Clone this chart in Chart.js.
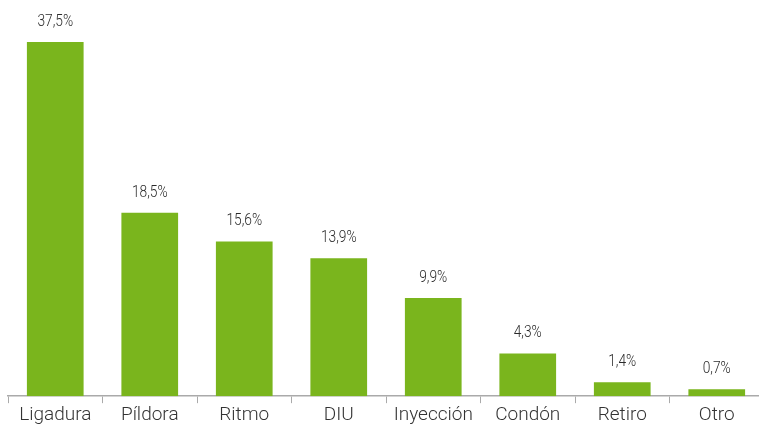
<!DOCTYPE html>
<html>
<head>
<meta charset="utf-8">
<script src="https://cdn.jsdelivr.net/npm/chart.js@4"></script>
<style>
  html, body { margin: 0; padding: 0; background: #fff; overflow: hidden; }
  #wrap { width: 766px; height: 427px; }
</style>
</head>
<body>
<div id="wrap"><canvas id="chart"></canvas></div>
<script>
// metodos anticonceptivos
const categories = ["Ligadura", "Píldora", "Ritmo", "DIU", "Inyección", "Condón", "Retiro", "Otro"];
const values = [37.5, 18.5, 15.6, 13.9, 9.9, 4.3, 1.4, 0.7];
const valueLabels = ["37,5%", "18,5%", "15,6%", "13,9%", "9,9%", "4,3%", "1,4%", "0,7%"];
const yMax = 35.7; // la barra de Ligadura aparece recortada en el original

// etiquetas arriba de cada barra (letra algo angosta)
const topLabels = {
    id: 'topLabels',
    afterDatasetsDraw(chart) {
        const ctx = chart.ctx;
        const top = chart.chartArea.top;
        const meta = chart.getDatasetMeta(0);
        ctx.save();
        ctx.font = '300 16px Roboto, sans-serif';
        ctx.fillStyle = '#2a2a2a';
        ctx.textAlign = 'center';
        ctx.textBaseline = 'bottom';
        meta.data.forEach((bar, i) => {
            const y = Math.max(bar.y, top) - 12;
            ctx.save();
            ctx.translate(bar.x, y);
            ctx.scale(0.86, 1);
            ctx.fillText(valueLabels[i], 0, 0);
            ctx.restore();
        });
        ctx.restore();
    }
};

new Chart(document.getElementById('chart'), {
    type: 'bar',
    data: {
        labels: categories,
        datasets: [{
            data: values,
            backgroundColor: '#7ab51d',
            barPercentage: 0.6,
            categoryPercentage: 1
        }]
    },
    options: {
        responsive: true,
        maintainAspectRatio: false,
        animation: false,
        layout: { padding: { left: 8, right: 2, top: 42, bottom: 0 } },
        plugins: { legend: { display: false }, tooltip: { enabled: false } },
        scales: {
            x: {
                grid: { drawOnChartArea: false, color: '#aaa', tickLength: 7, offset: true },
                border: { color: '#aaa', width: 1.5 },
                ticks: { color: '#333', padding: 1, font: { family: 'Roboto', weight: 300, size: 19, lineHeight: 1.15 } }
            },
            y: {
                display: false,
                min: 0,
                max: yMax
            }
        }
    },
    plugins: [topLabels]
});
</script>
</body>
</html>
